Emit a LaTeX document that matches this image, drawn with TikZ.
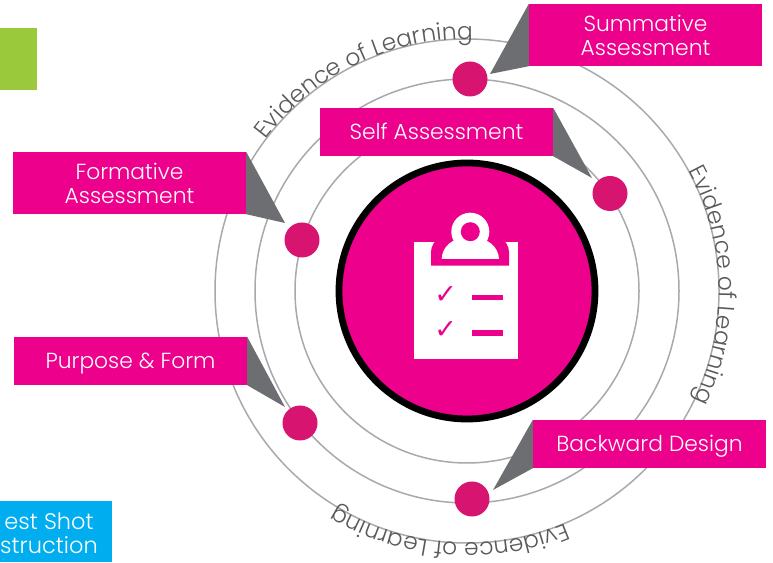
\documentclass[tikz,border=0pt]{standalone}
\usepackage{fontspec}
\usepackage{xcolor}
\usetikzlibrary{decorations.text}
\setmainfont{Poppins}[UprightFont=* Light]
\newfontfamily\checkfont{DejaVu Sans}
\definecolor{boxpink}{RGB}{236, 0, 140}
\definecolor{dotpink}{RGB}{215, 21, 113}
\definecolor{wedgegray}{RGB}{109, 110, 113}
\definecolor{ringgray}{RGB}{167, 169, 172}
\definecolor{labelgray}{RGB}{88, 89, 91}
\definecolor{topgreen}{RGB}{154, 202, 60}
\definecolor{shotblue}{RGB}{0, 174, 239}
\newcommand{\evidencefont}{\fontsize{23.4}{24}\selectfont\color{labelgray}}

\begin{document}
\begin{tikzpicture}[x=1pt, y=1pt,
        every node/.style={font=\fontsize{21.8}{24}\selectfont},
        pinkbox/.style={fill=boxpink, text=white, inner sep=0pt, align=center, minimum width=233pt},
        pinkline/.style={pinkbox, minimum height=48pt, text height=16pt, text depth=0pt},
        ring/.style={draw=ringgray, line width=1.5pt},
        wedge/.style={fill=wedgegray},
        stop/.style={circle, fill=dotpink, inner sep=0pt, minimum size=35pt},
        checkmark/.style={text=boxpink, inner sep=0pt, font=\checkfont\fontsize{27}{27}\selectfont},
        evidence/.style={decorate, decoration={text along path, text align={fit to path},
            text={|\evidencefont|Evidence of Learning}}}]
        \useasboundingbox (0,0) rectangle (773,562);
        \coordinate (ringcenter) at (467,271);

        % Rings
        \draw[ring] (ringcenter) circle (252);
        \draw[ring] (ringcenter) circle (212);
        \draw[ring] (ringcenter) circle (172);

        % Cropped boxes at the edge
        \node[fill=topgreen, inner sep=0pt, minimum width=37pt, minimum height=62pt] (greenbox) at (18.5,503) {};
        \node[fill=shotblue, inner sep=0pt, minimum width=112pt, minimum height=61pt] (shotbox) at (56,30.5) {};
        \node[text=white, align=center, inner sep=0pt, font=\fontsize{22.5}{24}\selectfont] (shotlabel) at (49,29) {est Shot\\struction};

        % Pink boxes
        \node[pinkbox, minimum height=62pt] (summative) at (645.5,527) {Summative\\Assessment};
        \node[pinkline] (selfbox) at (436.5,430) {Self Assessment};
        \node[pinkbox, minimum height=62pt] (formative) at (129.5,379) {Formative\\Assessment};
        \node[pinkline] (purpose) at (130.5,201) {Purpose \& Form};
        \node[pinkline] (backward) at (649.5,118) {Backward Design};

        % Dots on the rings
        \node[stop] (summativedot) at (470,483) {};
        \node[stop] (selfdot) at (610,368.5) {};
        \node[stop] (formativedot) at (302,322) {};
        \node[stop] (purposedot) at (300,139) {};
        \node[stop] (backwarddot) at (472,63) {};

        % Wedges from the boxes
        \coordinate (summativetip) at (490,488);
        \coordinate (selftip) at (592,384);
        \coordinate (formativetip) at (285,339);
        \coordinate (purposetip) at (285,155);
        \coordinate (backwardtip) at (493,72);
        \fill[wedge] (summative.north west) -- (summative.south west) -- (summativetip) -- cycle;
        \fill[wedge] (selfbox.north east) -- (selfbox.south east) -- (selftip) -- cycle;
        \fill[wedge] (formative.north east) -- (formative.south east) -- (formativetip) -- cycle;
        \fill[wedge] (purpose.north east) -- (purpose.south east) -- (purposetip) -- cycle;
        \fill[wedge] (backward.north west) -- (backward.south west) -- (backwardtip) -- cycle;

        % Curved labels
        \path[evidence] (ringcenter) ++(143:252) arc (143:89:252);
        \path[evidence] (ringcenter) ++(28.5:252) arc (28.5:-25.5:252);
        \path[evidence] (ringcenter) ++(-67:252) arc (-67:-121:252);

        % Centre disc
        \draw[fill=boxpink, draw=black, line width=6.8pt] (ringcenter) circle (128);

        % Clipboard
        \fill[white] (414.3,203) rectangle (518.3,320.3);
        \fill[boxpink] (431,296.3) -- (431,310) .. controls (431,322) and (445,332) .. (470,332)
          .. controls (495,332) and (509,322) .. (509,310) -- (509,296.3) -- cycle;
        \fill[white] (441.7,303) .. controls (442,315) and (452,325) .. (470,325)
          .. controls (488,325) and (498.5,315) .. (499,303) -- cycle;
        \fill[white] (470.3,330.3) circle (19);
        \fill[boxpink] (470.3,330.3) circle (9.5);

        % Check lines
        \node[checkmark] (checkone) at (445.7,267) {✓};
        \node[checkmark] (checktwo) at (445.7,232) {✓};
        \fill[boxpink] (471.7,262) rectangle (502.7,267);
        \fill[boxpink] (471.7,226) rectangle (502.7,232);

\end{tikzpicture}
\end{document}
